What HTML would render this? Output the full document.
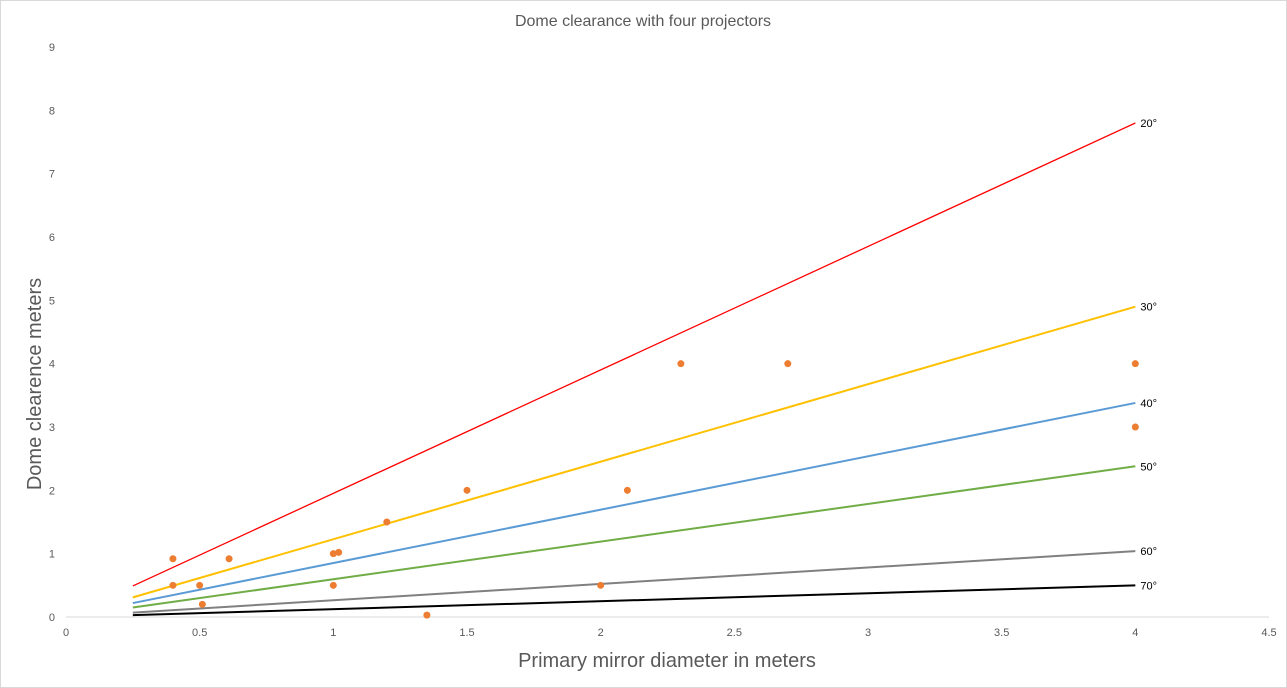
<!DOCTYPE html>
<html><head><meta charset="utf-8"><style>
body{margin:0;background:#fff;}
svg{display:block;font-family:"Liberation Sans",sans-serif;}
</style></head><body>
<svg id="chart" width="1287" height="688">
<rect x="0.5" y="0.5" width="1286" height="687" fill="#fff" stroke="#d9d9d9"/>
<text x="643" y="26" text-anchor="middle" font-size="16" fill="#595959">Dome clearance with four projectors</text>
<text x="667" y="667" text-anchor="middle" font-size="20" fill="#595959">Primary mirror diameter in meters</text>
<text transform="translate(41,384) rotate(-90)" text-anchor="middle" font-size="20" fill="#595959">Dome clearence meters</text>
<g id="axes"></g><g id="lines"></g><g id="points"></g>
</svg>
<script>
const xTicks=[0,0.5,1,1.5,2,2.5,3,3.5,4,4.5];
const yTicks=[0,1,2,3,4,5,6,7,8,9];
const lineNames=["20°","30°","40°","50°","60°","70°"];
const lineColors=["#ff0000","#ffc000","#5b9bd5","#70ad47","#808080","#000000"];
const lineX=[0.25,4];
const lineStart=[0.49,0.31,0.22,0.15,0.07,0.03];
const lineEnd=[7.8,4.9,3.38,2.38,1.04,0.5];
const ptX=[0.4,0.4,0.5,0.51,0.61,1,1.02,1,1.2,1.35,1.5,2,2.1,2.3,2.7,4,4];
const ptY=[0.92,0.5,0.5,0.2,0.92,1,1.02,0.5,1.5,0.03,2,0.5,2,4,4,4,3];
const NS="http://www.w3.org/2000/svg";
const X=v=>66+v*(1269-66)/4.5, Y=v=>617-v*(617-47)/9;
function mk(t,a,p){const e=document.createElementNS(NS,t);for(const k in a)e.setAttribute(k,a[k]);p.appendChild(e);return e;}
const ax=document.getElementById('axes');
const base=mk('line',{x1:66,x2:1269,y1:617,y2:617,stroke:'#d9d9d9'},ax);


xTicks.forEach(v=>{const t=mk('text',{x:X(v),y:636,'text-anchor':'middle','font-size':11,fill:'#595959'},ax);t.textContent=v;

});
yTicks.forEach(v=>{const t=mk('text',{x:55,y:Y(v)+4,'text-anchor':'end','font-size':11,fill:'#595959'},ax);t.textContent=v;

});
const lg=document.getElementById('lines');
lineNames.forEach((n,i)=>{const l=mk('line',{x1:X(lineX[0]),y1:Y(lineStart[i]),x2:X(lineX[1]),y2:Y(lineEnd[i]),stroke:lineColors[i],'stroke-width':i==0?1.3:2},lg);


const t=mk('text',{x:X(lineX[1])+5,y:Y(lineEnd[i])+4,'font-size':11,fill:'#000'},lg);t.textContent=n;

});
const pg=document.getElementById('points');
ptX.forEach((x,i)=>{const c=mk('circle',{cx:X(x),cy:Y(ptY[i]),r:3.5,fill:'#ed7d31'},pg);

});
</script>
</body></html>
